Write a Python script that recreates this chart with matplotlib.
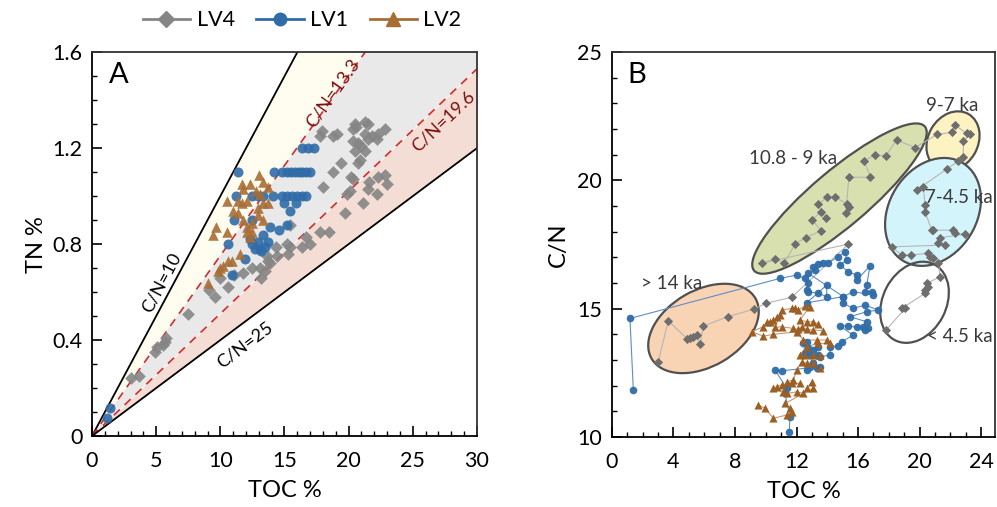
import matplotlib.pyplot as plt
from matplotlib.lines import Line2D
from matplotlib.patches import Ellipse
from matplotlib.ticker import MultipleLocator
import numpy as np

plt.rcParams['font.family'] = ['Lato', 'DejaVu Sans']

# ---- panel A: TOC % vs TN % ----
lv4_a_toc = [3.0, 3.7, 4.9, 5.1, 5.5, 5.7, 5.8, 7.5, 9.1, 9.6, 10.0, 10.6, 11.1, 11.8,
             12.5, 13.1, 13.5, 13.2, 13.7, 13.6, 13.9, 14.3, 14.4, 15.3, 15.2, 15.4,
             15.4, 16.4, 16.7, 17.0, 17.8, 18.5, 19.7, 20.1, 21.1, 21.5, 21.6, 22.3,
             22.8, 23.0, 22.2, 18.0, 18.8, 17.9, 17.8, 18.8, 19.1, 20.5, 20.6, 20.3,
             21.3, 21.5, 21.3, 21.8, 22.3, 22.8, 20.3, 20.7, 21.0, 20.5, 21.3, 21.5,
             22.2, 19.4, 20.2, 20.3, 20.9, 20.7, 19.9]
lv4_a_tn = [0.24, 0.25, 0.35, 0.37, 0.38, 0.39, 0.41, 0.51, 0.61, 0.58, 0.66, 0.62, 0.67,
            0.68, 0.70, 0.70, 0.69, 0.66, 0.73, 0.75, 0.72, 0.79, 0.75, 0.76, 0.80, 0.88,
            0.79, 0.79, 0.83, 0.80, 0.85, 0.85, 0.93, 1.02, 0.97, 1.03, 1.06, 1.08, 1.09,
            1.05, 1.01, 1.04, 1.10, 1.27, 1.25, 1.25, 1.26, 1.30, 1.29, 1.28, 1.31, 1.30,
            1.26, 1.25, 1.26, 1.28, 1.23, 1.22, 1.21, 1.19, 1.19, 1.24, 1.24, 1.14, 1.08,
            1.07, 1.15, 1.14, 1.01]

lv1_a_toc = [1.2, 1.4, 16.4, 16.8, 17.3, 11.4, 14.2, 14.8, 15.2, 15.5, 15.8, 16.1, 16.4,
             16.7, 17.0, 11.2, 12.5, 12.9, 13.3, 14.1, 14.8, 15.2, 15.6, 16.0, 16.4, 16.7,
             15.0, 15.9, 15.4, 11.1, 12.5, 13.9, 15.2, 14.6, 13.3, 13.7, 12.9, 12.5, 12.3,
             12.7, 13.1, 13.5, 13.2, 10.6, 11.9, 10.9]
lv1_a_tn = [0.075, 0.115, 1.2, 1.2, 1.2, 1.1, 1.1, 1.1, 1.1, 1.1, 1.1, 1.1, 1.1, 1.1, 1.1,
            1.0, 1.0, 1.0, 1.0, 1.0, 1.0, 1.0, 1.0, 1.0, 1.0, 1.0, 0.97, 0.97, 0.94, 0.90,
            0.90, 0.87, 0.88, 0.86, 0.84, 0.81, 0.81, 0.80, 0.82, 0.78, 0.78, 0.79, 0.77,
            0.80, 0.74, 0.67]

lv2_a_toc = [13.0, 11.7, 12.3, 13.3, 13.7, 11.8, 12.8, 13.1, 10.5, 11.4, 11.7, 12.1, 13.3,
             13.7, 11.0, 11.4, 12.9, 12.9, 11.8, 12.5, 13.3, 12.1, 12.5, 12.1, 12.3, 9.4,
             10.5, 9.7, 11.5, 10.6, 10.9, 10.2, 10.0, 9.8, 9.0]
lv2_a_tn = [1.09, 1.05, 1.05, 1.06, 1.04, 1.03, 1.02, 1.01, 0.98, 0.98, 0.97, 0.98, 0.97,
            0.97, 0.94, 0.93, 0.95, 0.92, 0.90, 0.89, 0.90, 0.87, 0.85, 0.85, 0.83, 0.84,
            0.85, 0.87, 0.76, 0.73, 0.73, 0.71, 0.70, 0.69, 0.64]

cn_lines = [10, 13.3, 19.6, 25]

# ---- panel B: TOC % vs C/N ----
lv4_b_toc = [17.82, 19.06, 18.84, 20.35, 20.35, 20.57, 20.46, 21.33, 21.22, 20.89, 20.68,
             20.57, 19.42, 18.84, 18.19, 21.65, 21.22, 21.33, 22.95, 22.30, 22.19, 20.89,
             20.79, 20.35, 20.35, 20.24, 19.81, 21.76, 22.52, 22.84, 22.84, 23.28, 23.06,
             22.30, 22.09, 21.15, 19.7, 18.5, 17.8, 17.1, 16.4, 16.8, 15.4, 15.2, 15.4,
             15.3, 14.5, 14.0, 13.4, 13.9, 13.6, 13.0, 13.6, 12.6, 11.9, 11.2, 10.6, 9.73,
             15.37, 11.68, 9.99, 9.23, 7.52, 5.94, 5.72, 5.51, 5.29, 5.07, 4.90, 3.66, 3.01]
lv4_b_cn = [14.17, 15.01, 15.01, 15.60, 15.73, 15.86, 15.99, 16.24, 16.79, 16.96, 17.02,
            17.16, 17.09, 17.09, 17.41, 17.48, 17.54, 17.77, 17.90, 17.93, 18.06, 18.06,
            18.06, 18.78, 19.04, 19.75, 19.62, 20.44, 20.75, 20.90, 21.53, 21.80, 21.83,
            22.15, 21.87, 21.79, 21.28, 21.57, 20.95, 20.99, 20.77, 20.12, 20.12, 18.71,
            18.97, 19.07, 19.36, 19.36, 19.07, 18.52, 18.78, 18.46, 18.04, 17.77, 17.52,
            16.77, 16.94, 16.77, 17.52, 15.44, 15.21, 14.98, 14.69, 14.32, 13.62, 13.97,
            13.91, 13.85, 13.82, 14.53, 12.93]

lv1_b_toc = [1.39, 1.17, 10.92, 12.01, 12.55, 12.76, 12.66, 12.76, 13.42, 13.96, 13.96,
             12.66, 15.04, 12.76, 13.20, 13.09, 13.42, 13.74, 14.06, 14.71, 15.15, 15.26,
             14.82, 15.36, 15.91, 15.91, 16.77, 16.56, 16.45, 16.89, 17.00, 15.69, 15.04,
             15.04, 15.69, 16.45, 17.32, 16.56, 15.47, 16.56, 16.34, 16.45, 16.67, 15.91,
             15.36, 14.82, 15.69, 14.93, 14.71, 14.17, 14.17, 13.52, 13.42, 12.87, 12.55,
             12.44, 12.66, 12.76, 13.09, 13.42, 12.66, 12.87, 13.09, 13.31, 13.52, 11.03,
             10.60, 11.36, 11.25, 11.57, 11.53]
lv1_b_cn = [11.83, 14.62, 16.18, 16.31, 16.18, 15.99, 15.73, 15.66, 15.60, 15.47, 15.92,
            15.23, 15.47, 16.38, 16.51, 16.63, 16.74, 16.77, 16.79, 17.02, 17.22, 16.90,
            16.70, 16.44, 16.31, 16.12, 16.66, 15.92, 15.66, 15.66, 15.53, 15.66, 15.47,
            15.21, 15.01, 15.14, 14.95, 14.88, 14.69, 14.49, 14.30, 14.17, 14.23, 14.27,
            14.34, 14.32, 13.97, 13.71, 13.55, 13.52, 13.19, 13.13, 13.19, 13.19, 13.26,
            13.65, 13.71, 13.46, 13.39, 13.52, 12.61, 12.74, 12.87, 12.68, 12.74, 12.58,
            12.61, 11.90, 11.70, 10.79, 10.21]

lv2_b_toc = [11.03, 11.68, 11.90, 12.11, 12.55, 12.87, 12.22, 12.66, 13.09, 13.42, 13.74,
             13.09, 12.66, 12.33, 12.11, 11.79, 11.03, 10.60, 10.92, 10.71, 10.49, 10.27,
             10.06, 9.84, 9.08, 9.84, 10.49, 12.01, 12.44, 13.31, 13.96, 14.17, 13.42,
             12.66, 12.22, 12.55, 13.09, 13.52, 13.09, 13.52, 12.66, 12.33, 12.01, 11.79,
             11.36, 11.68, 12.22, 11.03, 10.71, 10.49, 11.14, 11.36, 12.01, 12.44, 12.66,
             12.98, 13.09, 11.25, 11.57, 11.68, 11.36, 10.49, 9.95, 9.51]
lv2_b_cn = [14.95, 15.01, 15.01, 14.95, 15.10, 15.08, 14.56, 14.49, 14.49, 14.40, 14.14,
            14.17, 14.19, 14.27, 14.19, 14.23, 14.30, 14.27, 14.75, 14.66, 14.56, 14.49,
            14.49, 14.30, 14.10, 13.93, 14.00, 14.10, 13.78, 13.78, 13.78, 13.65, 13.65,
            13.52, 13.19, 13.19, 13.19, 13.19, 12.87, 12.68, 12.89, 12.93, 12.61, 12.22,
            12.15, 12.09, 12.09, 12.03, 11.96, 11.90, 11.76, 11.70, 11.76, 11.70, 11.90,
            12.15, 11.90, 11.31, 11.12, 10.99, 10.86, 10.73, 11.12, 11.25]

# age groups: label, centre (TOC, C/N), width, height (axes fraction), angle, fill
groups = ['10.8 - 9 ka', '9-7 ka', '7-4.5 ka', '< 4.5 ka', '> 14 ka']
grp_center = [(14.79, 19.29), (22.17, 21.53), (20.87, 18.77), (19.67, 15.25), (5.95, 14.23)]
grp_size = [(0.582, 0.146), (0.162, 0.13), (0.298, 0.229), (0.222, 0.165), (0.313, 0.198)]
grp_angle = [40, 60, 58, 62, 30]
grp_fill = ['#d8e0b0', '#fdf2c2', '#d4f4fb', 'none', '#f9d4b4']
grp_text = [(11.77, 20.87, 'center'), (22.1, 22.9, 'center'), (20.35, 19.35, 'left'),
            (20.45, 13.9, 'left'), (3.9, 16.0, 'center')]

c4, c1, c2 = '#858585', '#2f6ca8', '#a86d34'

fig = plt.figure(figsize=(9.97, 5.07), dpi=100)
axA = fig.add_axes([0.0923, 0.140, 0.3861, 0.757])
axB = fig.add_axes([0.6138, 0.138, 0.3842, 0.7594])

# shaded C/N zones
x = np.linspace(0, 30, 200)
axA.fill_between(x, x / 13.3, x / 10, color='#fffcf0', lw=0)
axA.fill_between(x, x / 19.6, x / 13.3, color='#e9e9e9', lw=0)
axA.fill_between(x, x / 25, x / 19.6, color='#f3ddd5', lw=0)
for cn in cn_lines:
    if cn in (10, 25):
        axA.plot(x, x / cn, color='black', lw=1.3)
    else:
        axA.plot(x, x / cn, color='#d42a2a', lw=1.2, dashes=(5, 4))

axA.scatter(lv4_a_toc, lv4_a_tn, marker='D', s=42, color=c4, alpha=0.9, lw=0, zorder=3)
axA.scatter(lv1_a_toc, lv1_a_tn, marker='o', s=52, color=c1, alpha=0.9, lw=0, zorder=3)
axA.scatter(lv2_a_toc, lv2_a_tn, marker='^', s=58, color=c2, alpha=0.9, lw=0, zorder=3)

axA.text(5.45, 0.64, 'C/N=10', rotation=62, fontsize=13, ha='center', va='center')
axA.text(11.9, 0.38, 'C/N=25', rotation=37, fontsize=13, ha='center', va='center')
axA.text(18.8, 1.43, 'C/N=13.3', rotation=54.6, fontsize=13, ha='center', va='center',
         color='#7b1010')
axA.text(27.4, 1.31, 'C/N=19.6', rotation=43.6, fontsize=13, ha='center', va='center',
         color='#7b1010')
axA.text(0.045, 0.94, 'A', transform=axA.transAxes, fontsize=21, ha='left', va='center')

axA.set_xlim(0, 30)
axA.set_ylim(0, 1.6)
axA.set_xticks([0, 5, 10, 15, 20, 25, 30])
axA.set_yticks([0, 0.4, 0.8, 1.2, 1.6])
axA.set_yticklabels(['0', '0.4', '0.8', '1.2', '1.6'])
axA.xaxis.set_minor_locator(MultipleLocator(1))
axA.yaxis.set_minor_locator(MultipleLocator(0.1))
axA.set_xlabel('TOC %', fontsize=17, labelpad=6)
axA.set_ylabel('TN %', fontsize=17, labelpad=4)

# panel B
axB.plot(lv4_b_toc, lv4_b_cn, color='#b5b5b5', lw=0.8, zorder=3)
axB.plot(lv1_b_toc, lv1_b_cn, color='#5a8ec6', lw=0.8, zorder=3)
axB.plot(lv2_b_toc, lv2_b_cn, color='#c99870', lw=0.8, zorder=3)
axB.scatter(lv4_b_toc, lv4_b_cn, marker='D', s=22, color='#6e6e6e', lw=0, zorder=4)
axB.scatter(lv1_b_toc, lv1_b_cn, marker='o', s=30, color=c1, lw=0, alpha=0.95, zorder=4)
axB.scatter(lv2_b_toc, lv2_b_cn, marker='^', s=34, color='#9c5f24', lw=0, zorder=4)

axB.set_xlim(0, 24.9)
axB.set_ylim(10, 25)
to_axes = axB.transData + axB.transAxes.inverted()
for i in range(len(groups)):
    cx, cy = to_axes.transform(grp_center[i])
    axB.add_patch(Ellipse((cx, cy), grp_size[i][0], grp_size[i][1], angle=grp_angle[i],
                          transform=axB.transAxes, facecolor=grp_fill[i],
                          edgecolor='#505050', lw=1.6, zorder=1))
    tx, ty, ha = grp_text[i]
    axB.text(tx, ty, groups[i], fontsize=13.5, color='#3a3a3a', ha=ha, va='center', zorder=5)
axB.text(0.04, 0.94, 'B', transform=axB.transAxes, fontsize=21, ha='left', va='center')

axB.set_xticks([0, 4, 8, 12, 16, 20, 24])
axB.set_yticks([10, 15, 20, 25])
axB.xaxis.set_minor_locator(MultipleLocator(1))
axB.yaxis.set_minor_locator(MultipleLocator(1))
axB.set_xlabel('TOC %', fontsize=17, labelpad=6)
axB.set_ylabel('C/N', fontsize=17, labelpad=6)

for ax in (axA, axB):
    ax.tick_params(which='major', direction='in', length=7, width=1.2, labelsize=15.5,
                   top=False, right=False)
    ax.tick_params(axis='x', which='major', pad=11)
    ax.tick_params(axis='y', which='major', pad=7)
    ax.tick_params(which='minor', direction='in', length=3.5, width=1.0, top=False, right=False)
    for sp in ax.spines.values():
        sp.set_linewidth(1.3)
    ax.spines['top'].set_color('#333333')
    ax.spines['right'].set_color('#333333')

handles = [Line2D([], [], color=c4, marker='D', ms=8, lw=2),
           Line2D([], [], color=c1, marker='o', ms=9, lw=2),
           Line2D([], [], color=c2, marker='^', ms=10, lw=2)]
fig.legend(handles, ['LV4', 'LV1', 'LV2'], loc='center', bbox_to_anchor=(0.303, 0.96),
           ncol=3, frameon=False, fontsize=15.5, handlelength=2.2, columnspacing=1.0,
           handletextpad=0.3)

fig.savefig('out.png', dpi=100)
